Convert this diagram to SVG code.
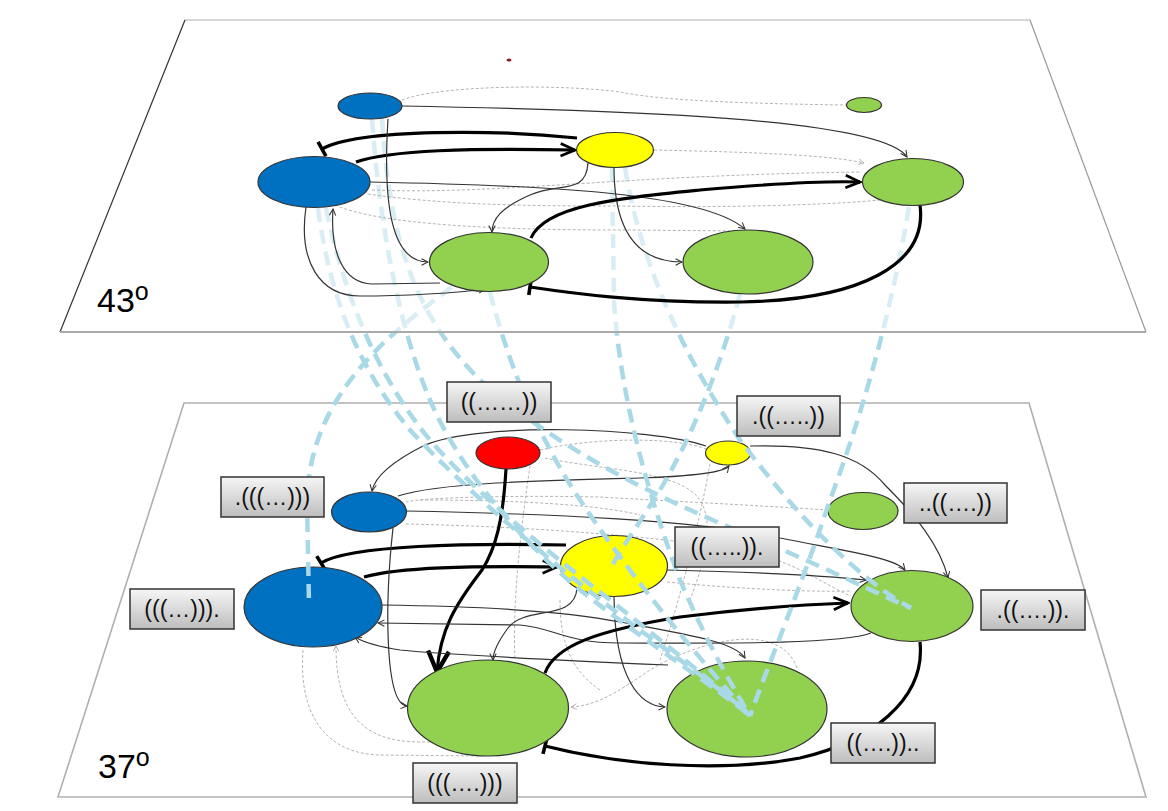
<svg xmlns="http://www.w3.org/2000/svg" width="1168" height="811" viewBox="0 0 1168 811">
<style>
.node{stroke:#333;stroke-width:1.2}
.blue{fill:#0070c0}.yellow{fill:#ffff00}.green{fill:#92d050}.red{fill:#ff0000}
.thin{fill:none;stroke:#333;stroke-width:1.2}
.thick{fill:none;stroke:#000;stroke-width:3.2}
.gdash{fill:none;stroke:#b4b4b4;stroke-width:1;stroke-dasharray:3 2}
.bdash{fill:none;stroke:#a9d9e6;stroke-width:4.5;stroke-dasharray:14 8}
.lbl rect{fill:url(#lg);stroke:#333;stroke-width:1.5}
.lbl text{font-family:"Liberation Sans",Arial,sans-serif;font-size:23px;fill:#111;text-anchor:middle}
.deg{font-family:"Liberation Sans",Arial,sans-serif;fill:#000}
</style>
<defs>
<linearGradient id="lg" x1="0" y1="0" x2="0" y2="1">
<stop offset="0" stop-color="#f6f6f6"/><stop offset="1" stop-color="#bdbdbd"/>
</linearGradient>
<marker id="ah" viewBox="0 0 10 10" refX="9" refY="5" markerWidth="8" markerHeight="8" markerUnits="userSpaceOnUse" orient="auto"><path d="M1,1 L9,5 L1,9" fill="none" stroke="#333" stroke-width="1.3"/></marker>
<marker id="ahg" viewBox="0 0 10 10" refX="9" refY="5" markerWidth="7" markerHeight="7" markerUnits="userSpaceOnUse" orient="auto"><path d="M1,1 L9,5 L1,9" fill="none" stroke="#aaa" stroke-width="1.2"/></marker>
<marker id="ahT" viewBox="0 0 20 20" refX="18" refY="10" markerWidth="18" markerHeight="18" markerUnits="userSpaceOnUse" orient="auto"><path d="M2,3 L18,10 L2,17" fill="none" stroke="#000" stroke-width="3"/></marker>
<marker id="ahB" viewBox="0 0 20 20" refX="18" refY="10" markerWidth="26" markerHeight="26" markerUnits="userSpaceOnUse" orient="auto"><path d="M2,2 L18,10 L2,18" fill="none" stroke="#000" stroke-width="3.4"/></marker>
<marker id="tee" viewBox="0 0 6 20" refX="3" refY="10" markerWidth="6" markerHeight="18" markerUnits="userSpaceOnUse" orient="auto"><path d="M3,1 L3,19" stroke="#000" stroke-width="4"/></marker>
</defs>
<rect width="1168" height="811" fill="#fff"/>

<!-- bottom plane -->
<g id="plane-bottom">
<polygon points="184,403 1029,403 1146,797 58,797" fill="#fff" stroke="#b0b0b0" stroke-width="1.6"/>
<text class="deg" x="98" y="778" font-size="34">37<tspan font-size="25" dy="-12">o</tspan></text>
</g>

<g id="connectors-bottom">
<path class="gdash" d="M540,450 C600,436 680,438 706,449"/>
<path class="gdash" d="M530,466 C522,520 512,600 515,660"/>
<path class="gdash" d="M303,650 C298,720 330,754 380,755 L480,756"/>
<path class="gdash" d="M470,742 L420,742 C360,742 336,710 336,646" marker-end="url(#ahg)"/>
<path class="gdash" d="M797,668 C780,620 700,640 650,670 C620,690 600,705 571,707" marker-end="url(#ahg)"/>
<path class="gdash" d="M710,464 C700,520 680,600 660,660"/>
<path class="gdash" d="M406,524 C550,527 700,540 760,555 C800,565 830,588 851,596"/>
<path class="gdash" d="M828,510 C750,505 650,500 600,497 C500,495 420,498 406,502"/>
<path class="gdash" d="M667,582 C750,590 820,592 852,591"/>
<path class="gdash" d="M545,458 C600,470 680,470 700,500 C715,525 705,560 690,600"/>
<path class="gdash" d="M560,600 C560,640 570,670 600,690"/>
<path class="gdash" d="M420,500 C520,500 600,505 640,515"/>

<path class="thin" d="M706,446 C650,427 480,422 425,445 C395,460 375,475 372,491" marker-end="url(#ah)"/>
<path class="thin" d="M750,446 C820,444 860,455 885,485 C915,515 940,545 948,578" marker-end="url(#ah)"/>
<path class="thin" d="M398,496 C440,482 560,480 640,478 C700,476 724,472 729,466" marker-end="url(#ah)"/>
<path class="thin" d="M406,511 C550,514 700,520 780,538 C850,552 895,558 905,570" marker-end="url(#ah)"/>
<path class="thick" d="M566,545 C470,543 350,545 321,563" marker-end="url(#tee)"/>
<path class="thick" d="M364,577 C400,567 470,566 557,567" marker-end="url(#ahT)"/>
<path class="thick" stroke-width="4" d="M506,469 C503,520 496,548 482,570 C455,605 440,630 437,672" marker-end="url(#ahB)"/>
<path class="thin" d="M393,528 C385,600 384,704 407,706" marker-end="url(#ah)"/>
<path class="thin" d="M382,605 C460,606 560,610 620,622 C690,635 735,642 745,658" marker-end="url(#ah)"/>
<path class="thin" d="M871,633 C840,645 700,643 620,643 C565,643 555,628 520,625 L378,623" marker-end="url(#ah)"/>
<path class="thin" d="M668,665 C600,662 450,655 400,650 C380,647 365,643 355,637" marker-end="url(#ah)"/>
<path class="thin" d="M577,588 C575,622 525,605 508,628 C497,643 493,652 493,660" marker-end="url(#ah)"/>
<path class="thin" d="M614,597 C615,680 640,706 665,707" marker-end="url(#ah)"/>
<path class="thin" d="M667,570 C750,572 820,575 866,580" marker-end="url(#ah)"/>
<path class="thick" d="M545,673 C555,645 600,630 680,617 C760,607 820,604 848,603" marker-end="url(#ahT)"/>
<path class="thick" d="M920,642 C926,700 870,742 800,758 C720,773 620,765 545,746" marker-end="url(#tee)"/>
</g>

<g id="node-b-red"><ellipse class="node red" cx="508" cy="453" rx="32" ry="16"/></g>
<g id="node-b-yellow-small"><ellipse class="node yellow" cx="728" cy="453" rx="22.5" ry="12"/></g>
<g id="node-b-blue-small"><ellipse class="node blue" cx="369" cy="512" rx="37.5" ry="20"/></g>
<g id="node-b-green-small"><ellipse class="node green" cx="863" cy="511" rx="35" ry="18.5"/></g>
<g id="node-b-blue-big"><ellipse class="node blue" cx="313" cy="607" rx="69" ry="40"/></g>
<g id="node-b-yellow-big"><ellipse class="node yellow" cx="614" cy="566" rx="53.5" ry="30.5"/></g>
<g id="node-b-green-right"><ellipse class="node green" cx="912" cy="606" rx="61" ry="35.5"/></g>
<g id="node-b-green-left"><ellipse class="node green" cx="488" cy="708" rx="80.5" ry="48"/></g>
<g id="node-b-green-mid"><ellipse class="node green" cx="747" cy="709" rx="80" ry="48"/></g>

<g id="connectors-between">
<path class="bdash" d="M372,119 C380,230 400,330 430,400 C460,470 520,540 580,590 C650,645 720,690 750,716"/>
<path class="bdash" d="M318,208 C330,300 360,370 410,430 C470,495 560,570 640,630 C700,675 735,700 750,716"/>
<path class="bdash" d="M326,208 C345,300 380,380 430,440 C500,520 600,590 660,640 C710,680 740,705 750,716"/>
<path class="bdash" d="M490,292 C510,370 540,440 580,500 C640,590 710,670 750,716"/>
<path class="bdash" d="M612,168 L614,300 C620,400 650,500 680,580 C710,650 735,690 750,716"/>
<path class="bdash" d="M909,207 C890,320 860,420 830,500 C800,590 770,660 750,716"/>
<path class="bdash" d="M740,294 C720,370 690,440 660,490 C635,530 620,550 612,566"/>
<path class="bdash" d="M625,168 C640,260 680,350 740,440 C800,520 860,580 911,608"/>
<path class="bdash" d="M382,119 C390,250 420,320 480,380 C560,450 650,495 760,540 C830,570 880,595 911,608"/>
<path class="bdash" d="M452,287 C380,340 310,400 307,500 L309,605"/>
</g>

<!-- top plane -->
<g id="plane-top">
<polygon points="185,20 1030,20 1146,332 60,332" fill="#fff" fill-opacity="0.55" stroke="none"/>
<line x1="185" y1="20" x2="1030" y2="20" stroke="#c8c8c8" stroke-width="1.5"/>
<line x1="185" y1="20" x2="60" y2="332" stroke="#333" stroke-width="1.2"/>
<line x1="1030" y1="20" x2="1146" y2="332" stroke="#999" stroke-width="1.2"/>
<line x1="60" y1="332" x2="1146" y2="332" stroke="#aaa" stroke-width="2"/>
<text class="deg" x="97" y="312" font-size="34">43<tspan font-size="25" dy="-12">o</tspan></text>
</g>

<g id="connectors-top">
<path class="gdash" d="M402,100 C440,85 560,84 620,92 C650,98 700,103 846,105"/>
<path class="gdash" d="M654,150 C750,152 830,155 864,163" marker-end="url(#ahg)"/>
<path class="gdash" d="M372,190 C500,195 620,175 862,172"/>
<path class="gdash" d="M368,194 C450,206 550,206 620,206 C720,208 830,205 880,200"/>
<path class="gdash" d="M335,205 C380,225 500,230 620,230 L745,231"/>

<path class="thick" d="M577,138 C500,130 360,128 322,149" marker-end="url(#tee)"/>
<path class="thick" d="M356,162 C390,150 470,148 575,150" marker-end="url(#ahT)"/>
<path class="thin" d="M388,119 C383,200 390,262 428,262" marker-end="url(#ah)"/>
<path class="thin" d="M402,106 C620,110 880,118 907,157" marker-end="url(#ah)"/>
<path class="thin" d="M370,182 C520,185 700,190 745,229" marker-end="url(#ah)"/>
<path class="thin" d="M588,163 C586,195 560,182 530,195 C500,208 492,220 492,232" marker-end="url(#ah)"/>
<path class="thin" d="M614,167 C614,235 640,262 682,262" marker-end="url(#ah)"/>
<path class="thick" d="M531,238 C545,205 620,198 700,190 C780,183 830,181 860,182" marker-end="url(#ahT)"/>
<path class="thick" d="M920,205 C928,265 860,300 740,302 C640,303 570,293 530,287" marker-end="url(#tee)"/>
<path class="thin" d="M306,207 C298,262 320,296 360,296 C400,296 460,293 485,289" marker-end="url(#ah)"/>
<path class="thin" d="M440,283 L372,284 C343,283 330,252 333,209" marker-end="url(#ah)"/>
</g>

<g id="node-t-dot"><ellipse cx="509" cy="60" rx="2.5" ry="1.5" fill="#8b1a1a"/></g>
<g id="node-t-blue-small"><ellipse class="node blue" cx="370" cy="106" rx="32" ry="13"/></g>
<g id="node-t-green-small"><ellipse class="node green" cx="864" cy="105" rx="17.5" ry="7.5"/></g>
<g id="node-t-yellow"><ellipse class="node yellow" cx="615" cy="150" rx="38.5" ry="17.5"/></g>
<g id="node-t-blue-big"><ellipse class="node blue" cx="314" cy="182" rx="56" ry="25.5"/></g>
<g id="node-t-green-right"><ellipse class="node green" cx="913" cy="182" rx="50.5" ry="23.5"/></g>
<g id="node-t-green-left"><ellipse class="node green" cx="489" cy="262" rx="59.5" ry="29.5"/></g>
<g id="node-t-green-mid"><ellipse class="node green" cx="748" cy="262" rx="65" ry="32"/></g>

<g id="labels">
<g class="lbl" id="lbl1"><rect x="447" y="382" width="104" height="40"/><text x="499" y="410">((……))</text></g>
<g class="lbl" id="lbl2"><rect x="221" y="477" width="103" height="40"/><text x="272.5" y="505">.(((…)))</text></g>
<g class="lbl" id="lbl3"><rect x="130" y="589" width="104" height="40"/><text x="182" y="617">(((…))).</text></g>
<g class="lbl" id="lbl4"><rect x="413" y="763" width="104" height="40"/><text x="465" y="791">(((….)))</text></g>
<g class="lbl" id="lbl5"><rect x="737" y="396" width="103" height="40"/><text x="788.5" y="424">.((…..))</text></g>
<g class="lbl" id="lbl6"><rect x="904" y="483" width="103" height="40"/><text x="955.5" y="511">..((….))</text></g>
<g class="lbl" id="lbl7"><rect x="675" y="527" width="104" height="40"/><text x="727" y="555">((…..)).</text></g>
<g class="lbl" id="lbl8"><rect x="981" y="590" width="104" height="40"/><text x="1033" y="618">.((….)).</text></g>
<g class="lbl" id="lbl9"><rect x="831" y="723" width="104" height="40"/><text x="883" y="751">((….))..</text></g>
</g>
</svg>
